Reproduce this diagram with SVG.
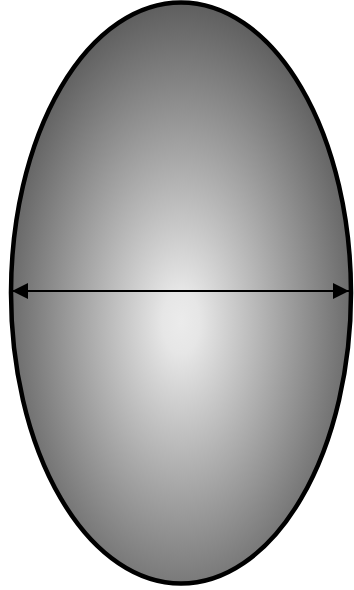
<svg xmlns="http://www.w3.org/2000/svg" width="354" height="590" viewBox="0 0 354 590">
<style>
.outline{stroke:#000;stroke-width:4.5}
.conn{stroke:#000;stroke-width:2;fill:none}
</style>
<defs>
<radialGradient id="g" cx="0.5" cy="0.55" r="0.55" fx="0.5" fy="0.55">
<stop offset="0" stop-color="#ebebeb"/>
<stop offset="0.1" stop-color="#e6e6e6"/>
<stop offset="1" stop-color="#5e5e5e"/>
</radialGradient>
<marker id="ah" viewBox="0 0 16 16" refX="16" refY="8" markerWidth="16" markerHeight="16" markerUnits="userSpaceOnUse" orient="auto-start-reverse">
<path d="M0,0 L16,8 L0,16 Z" fill="#000"/>
</marker>
</defs>
<g id="ellipse">
<ellipse cx="181" cy="293" rx="170" ry="290.5" fill="url(#g)" class="outline"/>
</g>
<g id="connectors">
<line x1="12" y1="291" x2="349" y2="291" class="conn" marker-start="url(#ah)" marker-end="url(#ah)"/>
</g>
</svg>
